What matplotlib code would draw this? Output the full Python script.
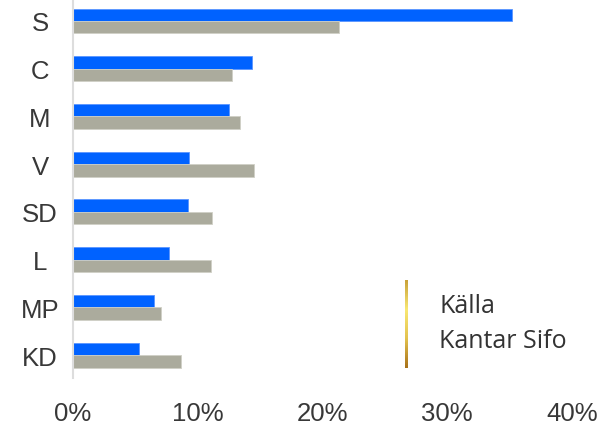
import numpy as np
import matplotlib
matplotlib.use("Agg")
import matplotlib.pyplot as plt
from matplotlib.colors import LinearSegmentedColormap

# Party support, percent
parties = ["S", "C", "M", "V", "SD", "L", "MP", "KD"]
blue_values = [35.2, 14.4, 12.5, 9.3, 9.2, 7.7, 6.5, 5.3]
gray_values = [21.3, 12.8, 13.4, 14.5, 11.2, 11.1, 7.1, 8.7]
x_ticks = [0, 10, 20, 30, 40]
x_tick_labels = ["0%", "10%", "20%", "30%", "40%"]

plt.rcParams["font.family"] = ["Liberation Sans", "DejaVu Sans"]
text_color = "#383838"

fig = plt.figure(figsize=(6.0, 4.27), dpi=100)
ax = fig.add_axes([0.1212, 0.1124, 0.832, 0.8876])

y = np.arange(len(parties))
h = 0.26
ax.barh(y - h / 2, blue_values, height=h, color="#0062FF",
        edgecolor="#5b95ff", linewidth=0.6)
ax.barh(y + h / 2, gray_values, height=h, color="#ABAB9D",
        edgecolor="#d0d0c6", linewidth=0.6)

ax.set_xlim(0, 40)
ax.set_ylim(len(parties) - 0.52, -0.46)
ax.set_xticks(x_ticks)
ax.set_xticklabels(x_tick_labels)
ax.set_yticks(y)
ax.set_yticklabels(parties, ha="center")

ax.tick_params(axis="x", length=0, pad=16.5, labelsize=18.5, labelcolor=text_color)
ax.tick_params(axis="y", length=0, pad=23.5, labelsize=18.5, labelcolor=text_color)

for side in ["top", "right", "bottom"]:
    ax.spines[side].set_visible(False)
ax.spines["left"].set_color("#dddddd")
ax.spines["left"].set_linewidth(1.5)

# Source note with a gold gradient bar
gold = LinearSegmentedColormap.from_list(
    "gold", ["#c9a23a", "#f9e873", "#e3c24e", "#a8721a"])
bar_ax = fig.add_axes([405 / 600, (427 - 369) / 427, 2.5 / 600, 88 / 427])
bar_ax.imshow(np.linspace(0, 1, 100).reshape(-1, 1), cmap=gold,
              aspect="auto", interpolation="bilinear")
bar_ax.set_axis_off()

fig.text(439 / 600, 1 - 313 / 427, "Källa", family="Open Sans",
         fontsize=18, color="#333333", va="baseline")
fig.text(439 / 600, 1 - 348 / 427, "Kantar Sifo", family="Open Sans",
         fontsize=18, color="#333333", va="baseline")

fig.savefig("out.png", dpi=100)
